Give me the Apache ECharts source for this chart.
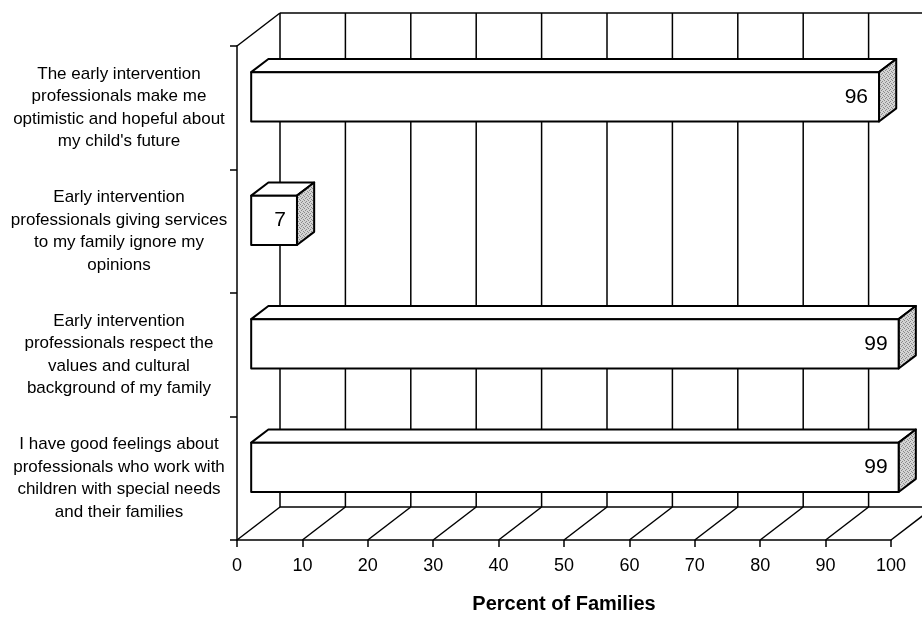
<!DOCTYPE html>
<html>
<head>
<meta charset="utf-8">
<script src="https://cdn.jsdelivr.net/npm/echarts@6/dist/echarts.min.js"></script>
<style>
  html, body { margin: 0; padding: 0; background: #ffffff; }
  #chart { width: 922px; height: 619px; }
</style>
</head>
<body>
<div id="chart"></div>
<script>
// Survey statements (top to bottom) and the share of families agreeing
const categories = [
  "The early intervention\nprofessionals make me\noptimistic and hopeful about\nmy child's future",
  "Early intervention\nprofessionals giving services\nto my family ignore my\nopinions",
  "Early intervention\nprofessionals respect the\nvalues and cultural\nbackground of my family",
  "I have good feelings about\nprofessionals who work with\nchildren with special needs\nand their families"
];
const values = [96, 7, 99, 99];
const xTicks = [0, 10, 20, 30, 40, 50, 60, 70, 80, 90, 100];
const axisTitle = 'Percent of Families';

// Pseudo-3D geometry (pixels / fractions of the depth and band)
const DEPTH_X = 43, DEPTH_Y = -33;   // front plane -> back wall
const BAR_FRONT = 0.33;              // where the bar's front face sits in depth
const BAR_DEPTH = 0.4;               // bar depth as a fraction of the full depth
const BAR_THICK = 0.4;               // bar height as a fraction of the category band
const FONT = "'Liberation Sans', Arial, Helvetica, sans-serif";
const INK = '#000000';

// Small stipple tile for the shaded end faces
function makeStipple() {
  const c = document.createElement('canvas');
  c.width = 4; c.height = 4;
  const g = c.getContext('2d');
  g.fillStyle = '#d4d4d4';
  g.fillRect(0, 0, 4, 4);
  g.fillStyle = '#8a8a8a';
  [[0, 0], [2, 1], [1, 2], [3, 3]].forEach(p => g.fillRect(p[0], p[1], 1, 1));
  return c;
}
const stipple = { image: makeStipple(), repeat: 'repeat' };

const chart = echarts.init(document.getElementById('chart'), null, { renderer: 'canvas' });

function line(x1, y1, x2, y2, w) {
  return { type: 'line', shape: { x1, y1, x2, y2 }, style: { stroke: INK, lineWidth: w || 1.5 }, silent: true };
}

// Back wall gridlines, floor diagonals and the outer frame
function renderFrame(params, api) {
  const cs = params.coordSys;
  const top = cs.y, bottom = cs.y + cs.height, left = cs.x, right = cs.x + cs.width;
  const fx = api.coord([api.value(0), 0])[0];
  const children = [
    line(fx + DEPTH_X, top + DEPTH_Y, fx + DEPTH_X, bottom + DEPTH_Y),
    line(fx, bottom, fx + DEPTH_X, bottom + DEPTH_Y)
  ];
  if (params.dataIndex === 0) {
    children.push(line(left + DEPTH_X, top + DEPTH_Y, right + DEPTH_X, top + DEPTH_Y));
    children.push(line(left + DEPTH_X, bottom + DEPTH_Y, right + DEPTH_X, bottom + DEPTH_Y));
    children.push(line(left, top, left + DEPTH_X, top + DEPTH_Y));
  }
  return { type: 'group', children };
}

// One block per statement: front face, top face, shaded end face and value label
function renderBar(params, api) {
  const v = api.value(0);
  const idx = api.value(1);
  const p0 = api.coord([0, idx]);
  const p1 = api.coord([v, idx]);
  const band = api.size([0, 1])[1];
  const h = band * BAR_THICK;
  const ox = BAR_FRONT * DEPTH_X, oy = BAR_FRONT * DEPTH_Y;
  const dx = BAR_DEPTH * DEPTH_X, dy = BAR_DEPTH * DEPTH_Y;
  const xl = p0[0] + ox, xr = p1[0] + ox;
  const yt = p0[1] + oy - h / 2, yb = p0[1] + oy + h / 2;
  const edge = { stroke: INK, lineWidth: 2, lineJoin: 'round' };
  return {
    type: 'group',
    children: [
      { type: 'polygon', shape: { points: [[xl, yt], [xr, yt], [xr + dx, yt + dy], [xl + dx, yt + dy]] },
        style: Object.assign({ fill: '#ffffff' }, edge) },
      { type: 'polygon', shape: { points: [[xr, yt], [xr + dx, yt + dy], [xr + dx, yb + dy], [xr, yb]] },
        style: Object.assign({ fill: stipple }, edge) },
      { type: 'rect', shape: { x: xl, y: yt, width: xr - xl, height: h },
        style: Object.assign({ fill: '#ffffff' }, edge) },
      { type: 'text', x: xr - 11, y: (yt + yb) / 2,
        style: { text: String(v), font: '21px ' + FONT, fill: INK, align: 'right', verticalAlign: 'middle' } }
    ]
  };
}

chart.setOption({
  animation: false,
  backgroundColor: '#ffffff',
  grid: { left: 237, right: 31, top: 46, bottom: 78, containLabel: false },
  xAxis: {
    type: 'value', min: 0, max: 100, interval: 10,
    name: axisTitle, nameLocation: 'middle', nameGap: 54,
    nameTextStyle: { fontFamily: FONT, fontSize: 20, fontWeight: 'bold', color: INK },
    axisLine: { show: true, lineStyle: { color: INK, width: 1.5 } },
    axisTick: { show: true, length: 7, lineStyle: { color: INK, width: 1.5 } },
    axisLabel: { fontFamily: FONT, fontSize: 18, color: INK, margin: 17 },
    splitLine: { show: false }
  },
  yAxis: {
    type: 'category', inverse: true, data: categories,
    axisLine: { show: true, lineStyle: { color: INK, width: 1.5 } },
    axisTick: { show: true, length: 7, lineStyle: { color: INK, width: 1.5 } },
    axisLabel: { fontFamily: FONT, fontSize: 17, lineHeight: 22.5, color: INK, align: 'center', margin: 118 },
    splitLine: { show: false }
  },
  series: [
    { type: 'custom', name: 'frame', renderItem: renderFrame, data: xTicks.map(t => [t]),
      encode: { x: 0 }, z: 1, silent: true },
    { type: 'custom', name: 'bars', renderItem: renderBar, data: values.map((v, i) => [v, i]),
      encode: { x: 0, y: 1 }, z: 2, silent: true }
  ]
});
</script>
</body>
</html>
